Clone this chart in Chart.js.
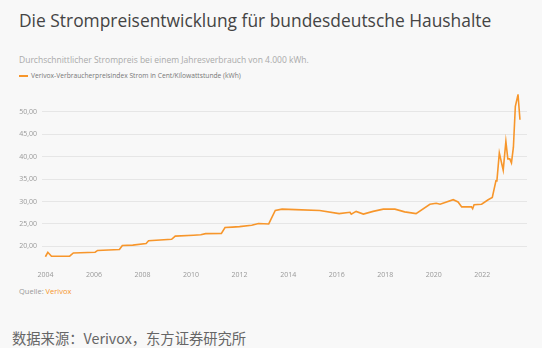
<!DOCTYPE html>
<html>
<head>
<meta charset="utf-8">
<script src="https://cdn.jsdelivr.net/npm/chart.js@4"></script>
<style>
  body { margin: 0; width: 542px; height: 348px; background: #f8f8f8; font-family: "Open Sans", sans-serif; position: relative; overflow: hidden; }
  .t { position: absolute; white-space: nowrap; }
  #title { left: 19px; top: 8px; font-size: 17.4px; color: #444; }
  #sub { left: 19px; top: 54px; font-size: 8.5px; color: #aaa; }
  #leg { left: 19px; top: 71px; font-size: 6.7px; color: #777; }
  #leg span { display: inline-block; width: 9px; height: 2px; background: #f7962b; vertical-align: middle; margin-right: 3px; }
  #src { left: 19px; top: 286px; font-size: 7.5px; color: #999; }
  #src b { font-weight: normal; color: #f7962b; }
  #cn { left: 12px; top: 327px; font-size: 14.3px; color: #666; font-family: "Noto Sans CJK SC", sans-serif; }
  #wrap { position: absolute; left: 0; top: 85px; width: 542px; height: 194px; }
</style>
</head>
<body>
<div class="t" id="title">Die Strompreisentwicklung für bundesdeutsche Haushalte</div>
<div class="t" id="sub">Durchschnittlicher Strompreis bei einem Jahresverbrauch von 4.000 kWh.</div>
<div class="t" id="leg"><span></span>Verivox-Verbraucherpreisindex Strom in Cent/Kilowattstunde (kWh)</div>
<div id="wrap"><canvas id="chart"></canvas></div>
<div class="t" id="src">Quelle: <b>Verivox</b></div>
<div class="t" id="cn">数据来源：Verivox，东方证券研究所</div>
<script>
// Zeitpunkte (Jahr, als Dezimalzahl) und Preise in Cent/kWh
const years = [2004.0, 2004.1, 2004.25, 2005.0, 2005.15, 2006.05, 2006.15, 2007.05, 2007.17, 2007.6,
    2008.15, 2008.25, 2009.2, 2009.35, 2010.1, 2010.4, 2010.6, 2011.25, 2011.4, 2011.7,
    2012.0, 2012.5, 2012.78, 2013.2, 2013.47, 2013.75, 2014.3, 2015.3, 2016.1, 2016.55,
    2016.6, 2016.8, 2017.1, 2017.5, 2017.92, 2018.4, 2018.8, 2019.27, 2019.84, 2020.1,
    2020.26, 2020.8, 2021.0, 2021.15, 2021.55, 2021.6, 2021.66, 2021.97, 2022.24, 2022.41,
    2022.56, 2022.6, 2022.7, 2022.86, 2022.97, 2023.05, 2023.13, 2023.2, 2023.28, 2023.36,
    2023.47, 2023.55];

const prices = [17.7, 18.7, 17.8, 17.85, 18.55, 18.7, 19.1, 19.3, 20.2, 20.3,
    20.65, 21.25, 21.6, 22.3, 22.5, 22.6, 22.85, 22.9, 24.2, 24.3,
    24.4, 24.7, 25.1, 25.0, 28.0, 28.3, 28.2, 28.0, 27.3, 27.6,
    27.2, 27.8, 27.2, 27.8, 28.3, 28.3, 27.7, 27.3, 29.4, 29.6,
    29.4, 30.4, 29.9, 28.8, 28.8, 28.4, 29.3, 29.4, 30.4, 30.9,
    34.6, 34.6, 40.8, 37.0, 43.4, 39.5, 39.5, 38.6, 42.1, 51.2,
    53.8, 48.2];

const yearTicks = [2004, 2006, 2008, 2010, 2012, 2014, 2016, 2018, 2020, 2022];
const priceTicks = [20, 25, 30, 35, 40, 45, 50];

const points = years.map((y, i) => ({ x: y, y: prices[i] }));

const config = {
    type: "line",
    data: {
        datasets: [{
            label: "Verivox-Verbraucherpreisindex Strom in Cent/Kilowattstunde (kWh)",
            data: points,
            borderColor: "#f7962b",
            borderWidth: 1.6,
            pointRadius: 0,
            tension: 0
        }]
    },
    options: {
        responsive: true,
        maintainAspectRatio: false,
        animation: false,
        layout: { padding: { top: 5, right: 15, left: 0, bottom: 0 } },
        plugins: { legend: { display: false }, tooltip: { enabled: false } },
        scales: {
            x: {
                type: "linear",
                min: 2003.86,
                max: 2023.84,
                grid: { display: false },
                border: { display: false },
                afterBuildTicks: (s) => { s.ticks = yearTicks.map(v => ({ value: v })); },
                afterFit: (s) => { s.height = 20; },
                ticks: { padding: 4, color: "#999", font: { family: "Open Sans", size: 7 }, maxRotation: 0,
                    callback: (v) => String(v) }
            },
            y: {
                min: 17.2,
                max: 53.9,
                grid: { color: "#e6e6e6", drawTicks: false },
                border: { display: false },
                afterBuildTicks: (s) => { s.ticks = priceTicks.map(v => ({ value: v })); },
                afterFit: (s) => { s.width = 42; },
                ticks: { padding: 5, color: "#999", font: { family: "Open Sans", size: 7 },
                    callback: (v) => v.toFixed(2).replace(".", ",") }
            }
        }
    }
};

const chart = new Chart(document.getElementById("chart"), config);
</script>
</body>
</html>
